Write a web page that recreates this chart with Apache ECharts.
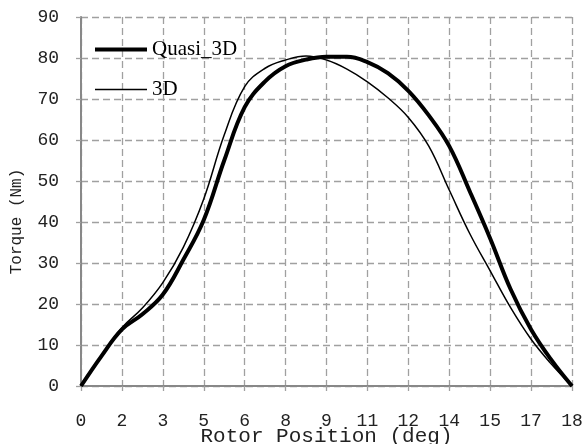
<!DOCTYPE html>
<html>
<head>
<meta charset="utf-8">
<script src="https://cdn.jsdelivr.net/npm/echarts@6/dist/echarts.min.js"></script>
<style>html,body{margin:0;padding:0;background:#fff}#c{width:585px;height:444px}</style>
</head>
<body>
<div id="c"></div>
<script>
// Rotor position (deg)
var xDeg = [0, 0.75, 1.5, 2.25, 3, 3.75, 4.5, 5.25, 6, 6.75, 7.5, 8.25, 9, 9.75, 10.5, 11.25, 12, 12.75, 13.5, 14.25, 15, 15.75, 16.5, 17.25, 18];
// Torque (Nm)
var quasi3D = [0, 7.3, 13.8, 17.5, 22.3, 30.8, 40.5, 55, 68, 74.3, 78, 79.6, 80.3, 80.3, 79.0, 76.3, 72.0, 66, 58.5, 47.5, 36, 23.6, 13.8, 6.3, 0];
var full3D  = [0, 7.3, 14.2, 19, 25.2, 33.8, 45.6, 61.2, 73, 77.5, 79.5, 80.5, 79.5, 77.3, 74.2, 70.3, 65.5, 58.5, 47.8, 37.2, 28.1, 19.1, 11.4, 5.3, 0];
var xTickLabels = ['0', '2', '3', '5', '6', '8', '9', '11', '12', '14', '15', '17', '18'];
var yTickLabels = ['0', '10', '20', '30', '40', '50', '60', '70', '80', '90'];
var seriesNames = ['Quasi_3D', '3D'];
var xName = 'Rotor Position (deg)';
var yName = 'Torque (Nm)';

function pairs(ys) { return xDeg.map(function (x, i) { return [x, ys[i]]; }); }

var chart = echarts.init(document.getElementById('c'), null, { renderer: 'canvas' });
var gridLine = { show: true, lineStyle: { color: '#a0a0a0', width: 1.3, type: [7, 4] } };
var mono = 'Liberation Mono, Courier New, monospace';
var legendText = { fontFamily: 'Liberation Serif, Times New Roman, serif', fontSize: 21, color: '#000' };
chart.setOption({
  animation: false,
  backgroundColor: '#fff',
  grid: { left: 81, right: 13, top: 17, bottom: 58, containLabel: false, outerBoundsMode: 'none' },
  legend: [
    { left: 95, top: 39, padding: 0, icon: 'rect', itemWidth: 52, itemHeight: 4, data: [seriesNames[0]],
      itemStyle: { color: '#000' }, textStyle: legendText },
    { left: 95, top: 79, padding: 0, icon: 'rect', itemWidth: 52, itemHeight: 1.5, data: [seriesNames[1]],
      itemStyle: { color: '#000' }, textStyle: legendText }
  ],
  xAxis: {
    type: 'value', min: 0, max: 18, interval: 1.5,
    name: xName, nameLocation: 'middle', nameGap: 40, nameMoveOverlap: false,
    nameTextStyle: { fontFamily: mono, fontSize: 21, color: '#222' },
    axisLine: { show: true, lineStyle: { color: '#888', width: 2 } },
    axisTick: { show: true, length: 5, lineStyle: { color: '#a0a0a0', width: 1.3 } },
    axisLabel: { margin: 26, fontFamily: mono, fontSize: 18, color: '#222',
      formatter: function (v) { return xTickLabels[Math.round(v / 1.5)]; } },
    splitLine: gridLine
  },
  yAxis: {
    type: 'value', min: 0, max: 90, interval: 10,
    name: yName, nameLocation: 'middle', nameGap: 56, nameMoveOverlap: false,
    nameTextStyle: { fontFamily: mono, fontSize: 16, color: '#222', padding: [0, 40, 0, 0] },
    axisLine: { show: true, lineStyle: { color: '#888', width: 2 } },
    axisTick: { show: true, length: 5, lineStyle: { color: '#a0a0a0', width: 1.3 } },
    axisLabel: { margin: 22, fontFamily: mono, fontSize: 18, color: '#222',
      formatter: function (v) { return yTickLabels[Math.round(v / 10)]; } },
    splitLine: gridLine
  },
  series: [
    { name: seriesNames[0], type: 'line', data: pairs(quasi3D), smooth: 0.4, symbol: 'none',
      lineStyle: { color: '#000', width: 4 }, itemStyle: { color: '#000' } },
    { name: seriesNames[1], type: 'line', data: pairs(full3D), smooth: 0.4, symbol: 'none',
      lineStyle: { color: '#000', width: 1.5 }, itemStyle: { color: '#000' } }
  ]
});
</script>
</body>
</html>
